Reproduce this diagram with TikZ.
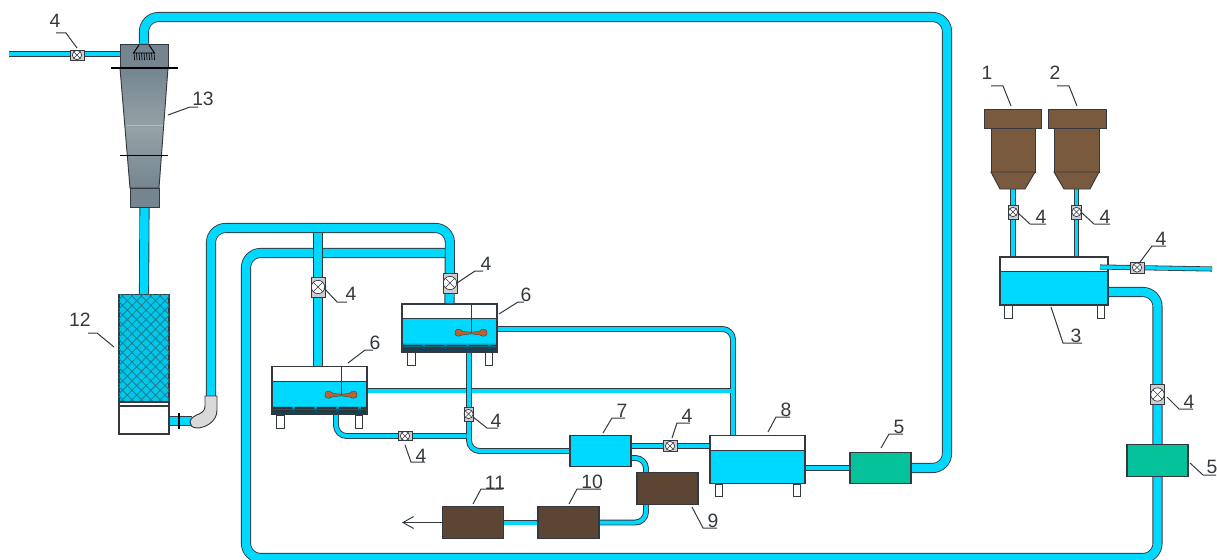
\documentclass[tikz,border=0pt]{standalone}
\usepackage{fontspec}
\setmainfont{Liberation Sans}
\usetikzlibrary{arrows.meta,backgrounds,patterns.meta}
\definecolor{water}{HTML}{00D9FF}
\definecolor{wire}{HTML}{33393E}
\definecolor{mud}{HTML}{5C4533}
\definecolor{ore}{HTML}{7A5A3F}
\definecolor{pump}{HTML}{05C29A}
\definecolor{steel}{HTML}{75858F}
\definecolor{steellight}{HTML}{94A3A5}
\definecolor{blade}{HTML}{BC6230}
\definecolor{sludge}{HTML}{123A50}
\tikzset{
  pipe/.style={draw=wire,line width=.65pt,double=water,double distance=6.3pt,rounded corners=11pt},
  thinpipe/.style={draw=wire,line width=.7pt,double=water,double distance=3pt,rounded corners=8pt},
  feedpipe/.style={draw=wire,line width=.6pt,double=water,double distance=2.6pt},
  unit/.style={draw=wire,line width=.8pt,inner sep=0pt,minimum width=45.75pt,minimum height=23.5pt},
  pumpbox/.style={unit,fill=pump},
  mudbox/.style={unit,fill=mud},
  tank/.style={draw=wire,line width=.8pt,fill=water,inner sep=0pt,minimum width=71.25pt,minimum height=36pt,
    path picture={
      \fill[white] (path picture bounding box.north west) rectangle ([yshift=-11pt]path picture bounding box.north east);
      \draw[wire,line width=.8pt] ([yshift=-11pt]path picture bounding box.north west) -- ([yshift=-11pt]path picture bounding box.north east);
    }},
  mixband/.style={top color=water,bottom color=sludge,middle color=sludge!85!water},
  valve/.style 2 args={draw=wire,line width=.5pt,fill=wire!25,inner sep=0pt,minimum width=#1,minimum height=#2,
    path picture={
      \fill[white,draw=wire,line width=.5pt] (path picture bounding box.center) circle (3.5pt);
      \draw[wire,line width=.5pt] ([shift={(-2.5pt,-2.5pt)}]path picture bounding box.center) -- ([shift={(2.5pt,2.5pt)}]path picture bounding box.center);
      \draw[wire,line width=.5pt] ([shift={(-2.5pt,2.5pt)}]path picture bounding box.center) -- ([shift={(2.5pt,-2.5pt)}]path picture bounding box.center);
    }},
  bigvalve/.style={draw=wire,line width=.5pt,fill=wire!25,inner sep=0pt,minimum width=10.5pt,minimum height=15pt,
    path picture={
      \fill[white,draw=wire,line width=.5pt] (path picture bounding box.center) circle (5pt);
      \draw[wire,line width=.5pt] ([shift={(-3.5pt,-3.5pt)}]path picture bounding box.center) -- ([shift={(3.5pt,3.5pt)}]path picture bounding box.center);
      \draw[wire,line width=.5pt] ([shift={(-3.5pt,3.5pt)}]path picture bounding box.center) -- ([shift={(3.5pt,-3.5pt)}]path picture bounding box.center);
    }},
  num/.style={font=\fontsize{14.5}{16}\selectfont,text=wire,inner sep=0pt},
  leader/.style={draw=wire,line width=.75pt},
  leg/.style={draw=wire,line width=.7pt,fill=white},
  impeller/.pic={
    \fill[blade,draw=wire,line width=.3pt] (0,-.8) -- (-8,-1.5) .. controls (-11,-4.5) and (-15,-5) .. (-16,-1)
      .. controls (-17,3) and (-13,4.5) .. (-9,2) -- (0,.8) -- (9,2)
      .. controls (13,4.5) and (17,3) .. (16,-1) .. controls (15,-5) and (11,-4.5) .. (8,-1.5) -- cycle;
  }
}
\begin{document}
\begin{tikzpicture}[x=.75pt,y=-.75pt]
  \useasboundingbox (0,0) rectangle (1217,560);
  % cyclone and scrubber
  \draw[wire,line width=.7pt,top color=steel,bottom color=steel,middle color=steellight]
    (120,68) -- (168,68) -- (159,188) -- (130,188) -- cycle;
  \draw[steellight!70!white,line width=.4pt] (127,125) -- (163,125);
  \node[draw=wire,line width=.7pt,fill=steel,inner sep=0pt,minimum width=36pt,minimum height=18pt] (cyc) at (144,56) {};
  \node[draw=wire,line width=.7pt,fill=steel,inner sep=0pt,minimum width=21.75pt,minimum height=14.25pt] (cycb) at (144.5,197.5) {};
  \draw[black,line width=.8pt] (111,68) -- (178,68);
  \draw[black,line width=.7pt] (120,155) -- (168,155);
  \draw[black,line width=.7pt] (139,45) -- (133.5,53) -- (154.5,53) -- (149,45);
  \foreach \x in {134,136.5,...,155}
    \draw[black,line width=.5pt] (\x,53) -- (\x+.6,60);
  \node[draw=wire,line width=.8pt,fill=water!92!black,inner sep=0pt,minimum width=37.5pt,minimum height=80pt,
    postaction={pattern={Hatch[angle=45,distance=5pt,line width=.7pt]},pattern color=wire!55!water}] (scr) at (144,348) {};
  \node[draw=wire,line width=.8pt,fill=white,inner sep=0pt,minimum width=37.5pt,minimum height=24pt] (scrb) at (144,418) {};
  \draw[wire,line width=.8pt] (119,406) -- (169,406);
  \coordinate (scrout) at (169,421);
  \coordinate (elbowin) at (192,421);
  \coordinate (elbowout) at (211,397);
  \draw[wire,line width=.7pt,fill=black!15] (205,396) -- (217,396) -- (217,410) .. controls (217,422) and (205,428) .. (197,428)
    .. controls (192,428) and (190,425) .. (190,422) .. controls (190,418) and (196,415) .. (199,414)
    .. controls (203,412) and (205,410) .. (205,406) -- cycle;

  % hoppers and feed tank
  \draw[wire,line width=.7pt,fill=ore] (991,128) -- (991,172) -- (1035,172) -- (1035,128) -- cycle;
  \draw[wire,line width=.7pt,fill=ore] (991,172) -- (1000,189) -- (1025,189) -- (1035,172) -- cycle;
  \draw[wire,line width=.7pt,fill=ore] (1054,128) -- (1054,172) -- (1099,172) -- (1099,128) -- cycle;
  \draw[wire,line width=.7pt,fill=ore] (1054,172) -- (1064,189) -- (1090,189) -- (1099,172) -- cycle;
  \node[draw=wire,line width=.7pt,fill=ore,inner sep=0pt,minimum width=42.75pt,minimum height=14.25pt] (hopa) at (1012.5,118.5) {};
  \node[draw=wire,line width=.7pt,fill=ore,inner sep=0pt,minimum width=43.5pt,minimum height=14.25pt] (hopb) at (1077,118.5) {};
  \coordinate (hopaout) at (1013,189);
  \coordinate (hopbout) at (1076.5,189);
  \coordinate (feedina) at (1013,257);
  \coordinate (feedinb) at (1076.5,257);
  \node[tank,minimum width=81pt] (feed) at (1054,281) {};
  \coordinate (feedout) at (1108,292);
  \draw[leg] (1004,305) rectangle (1012,318);
  \draw[leg] (1097,305) rectangle (1104,318);

  % mixing tanks
  \node[tank] (mixu) at (449.5,328) {};
  \node[tank] (mixl) at (319.5,390.5) {};
  \shade[mixband] (402.4,342) rectangle (496.6,351.6);
  \shade[mixband] (272.4,405) rectangle (366.6,414);
  \draw[black!80,line width=.8pt,dash pattern=on 14pt off 2.5pt] (403,345.5) -- (497,345.5);
  \draw[black!80,line width=.8pt,dash pattern=on 14pt off 2.5pt] (403,348.5) -- (497,348.5);
  \draw[black!80,line width=.8pt,dash pattern=on 14pt off 2.5pt] (273,408) -- (367,408);
  \draw[black!80,line width=.8pt,dash pattern=on 14pt off 2.5pt] (273,411) -- (367,411);
  \draw[wire,line width=.8pt] (402,352) rectangle (497,304);
  \draw[wire,line width=.8pt] (272,414.5) rectangle (367,366.5);
  \draw[wire,line width=.7pt] (471,304) -- (471,333);
  \draw[wire,line width=.7pt] (341,366.5) -- (341,395);
  \pic at (471,333) {impeller};
  \pic at (341,395) {impeller};
  \draw[leg] (407,352) rectangle (415,365);
  \draw[leg] (485,352) rectangle (492,365);
  \draw[leg] (276,415) rectangle (284,428);
  \draw[leg] (355,415) rectangle (362,428);
  \coordinate (mixuout) at (497,329);
  \coordinate (mixubot) at (469,352);
  \coordinate (mixlin) at (318,366);
  \coordinate (mixlbot) at (336,415);

  % filter line
  \node[unit,fill=water] (sep) at (600.5,451) {};
  \node[tank] (clear) at (757.5,459.5) {};
  \draw[leg] (715,484) rectangle (722,496);
  \draw[leg] (793,484) rectangle (800,496);
  \node[pumpbox] (pumpa) at (880.5,468) {};
  \node[pumpbox] (pumpb) at (1157.5,460.5) {};
  \node[mudbox] (press) at (667.5,488.5) {};
  \node[mudbox] (dry) at (568.5,522.5) {};
  \node[mudbox] (pack) at (473,522.5) {};
  \coordinate (clearin) at (733,435);
  \coordinate (exit) at (402,522.5);

  % valves
  \node[valve={10.5pt}{7.5pt}] (va) at (77,55) {};
  \node[valve={7.5pt}{10.5pt}] (vb) at (1013,212) {};
  \node[valve={7.5pt}{10.5pt}] (vc) at (1076.5,212) {};
  \node[valve={7pt}{10.5pt}] (ve) at (468.5,414) {};
  \node[valve={10.5pt}{7pt}] (vf) at (405,436) {};
  \node[valve={10.5pt}{8pt}] (vg) at (670,446) {};
  \node[bigvalve] (vh) at (318,287) {};
  \node[bigvalve] (vi) at (450,283) {};
  \node[bigvalve] (vj) at (1157.5,394.5) {};

  \begin{scope}[on background layer]
    %% main water loops
    \draw[pipe] (cyc.north) -- (144,17) -- (947,17) -- (947,468) -- (pumpa.east);
    \draw[pipe] (cycb.south) -- (scr.north);
    \draw[pipe,rounded corners=0pt] (scrout) -- (elbowin);
    \draw[pipe] (pumpb.south) -- (1157.5,558) -- (246,558) -- (246,253) -- (446,253);
    \draw[pipe] (elbowout) -- (211,228) -- (450,228) -- (mixu.north);
    \draw[pipe,rounded corners=0pt] (318,232.5) -- (mixlin);
    \draw[pipe] (feedout) -- (1157.5,292) -- (pumpb.north);
    %% process lines
    \draw[thinpipe] (mixuout) -- (733,329) -- (clearin);
    \draw[thinpipe] (mixl.east) -- (731,390.5);
    \draw[thinpipe] (mixubot) -- (469,451) -- (sep.west);
    \draw[thinpipe] (mixlbot) -- (336,436) -- (466.5,436);
    \draw[thinpipe] (sep.east |- vg) -- (710,446);
    \draw[thinpipe] (631,458) -- (646,458) -- (646,473);
    \draw[thinpipe] (646,504) -- (646,522.5) -- (dry.east);
    \draw[thinpipe] (dry.west) -- (pack.east);
    \draw[thinpipe] (clear.east |- pumpa) -- (pumpa.west);
    %% feeds
    \draw[feedpipe] (9,54) -- (cyc.west |- 0,54);
    \draw[feedpipe] (hopaout) -- (feedina);
    \draw[feedpipe] (hopbout) -- (feedinb);
    \draw[black,line width=1.1pt] (179,413) -- (179,429);
  \end{scope}
  \draw[feedpipe] (1100,267) -- (1212,269);
  \node[valve={10.5pt}{8pt}] (vd) at (1137,267.5) {};
  \draw[wire,line width=.7pt,-{Straight Barb[length=8pt,width=9pt]}] (pack.west) -- (exit);

  % numbers
  \node[num] (la) at (55,21) {4};
  \draw[leader] (la) ++(1,12) -- ++(10,0) -- ++(11,15);
  \node[num] (lb) at (203,99) {13};
  \draw[leader] (lb) ++(-5,8) -- ++(-8,0) -- ++(-22,8);
  \node[num] (lc) at (80,320) {12};
  \draw[leader] (lc) ++(8,13) -- ++(9,0) -- ++(17,14);
  \node[num] (ld) at (987,73) {1};
  \draw[leader] (ld) ++(4,13) -- ++(12,0) -- ++(8,20);
  \node[num] (le) at (1055,73) {2};
  \draw[leader] (le) ++(2,13) -- ++(12,0) -- ++(8,20);
  \node[num] (lf) at (375,343) {6};
  \draw[leader] (lf) ++(-2,7) -- ++(-8,0) -- ++(-17,13);
  \node[num] (lg) at (526,295) {6};
  \draw[leader] (lg) ++(-2,7) -- ++(-6,0) -- ++(-19,12);
  \node[num] (lh) at (351,294) {4};
  \draw[leader] (lh) ++(-4,8) -- ++(-10,0) -- ++(-13,-14);
  \node[num] (li) at (486,264) {4};
  \draw[leader] (li) ++(-3,7) -- ++(-8,0) -- ++(-18,12);
  \node[num] (lj) at (496,421) {4};
  \draw[leader] (lj) ++(2,7) -- ++(-11,0) -- ++(-14,-11);
  \node[num] (lk) at (421,456) {4};
  \draw[leader] (lk) ++(4,6) -- ++(-14,0) -- ++(-6,-17);
  \node[num] (ll) at (622,411) {7};
  \draw[leader] (ll) ++(3,7) -- ++(-13,0) -- ++(-9,15);
  \node[num] (lm) at (687,416) {4};
  \draw[leader] (lm) ++(3,7) -- ++(-13,0) -- ++(-5,15);
  \node[num] (ln) at (786,410) {8};
  \draw[leader] (ln) ++(4,7) -- ++(-14,0) -- ++(-8,15);
  \node[num] (lo) at (899,427) {5};
  \draw[leader] (lo) ++(4,7) -- ++(-14,0) -- ++(-8,14);
  \node[num] (lp) at (713,521) {9};
  \draw[leader] (lp) ++(4,7) -- ++(-14,0) -- ++(-11,-21);
  \node[num] (lq) at (592,482) {10};
  \draw[leader] (lq) ++(9,7) -- ++(-24,0) -- ++(-8,15);
  \node[num] (lr) at (495,483) {11};
  \draw[leader] (lr) ++(8,6) -- ++(-22,0) -- ++(-8,15);
  \node[num] (ls) at (1212,467) {5};
  \draw[leader] (ls) ++(4,8) -- ++(-13,0) -- ++(-13,-12);
  \node[num] (lt) at (1189,402) {4};
  \draw[leader] (lt) ++(4,7) -- ++(-14,0) -- ++(-12,-12);
  \node[num] (lu) at (1041,217) {4};
  \draw[leader] (lu) ++(5,7) -- ++(-16,0) -- ++(-12,-11);
  \node[num] (lv) at (1105,217) {4};
  \draw[leader] (lv) ++(5,7) -- ++(-16,0) -- ++(-12,-11);
  \node[num] (lw) at (1161,239) {4};
  \draw[leader] (lw) ++(5,7) -- ++(-14,0) -- ++(-12,16);
  \node[num] (lx) at (1076,336) {3};
  \draw[leader] (lx) ++(6,7) -- ++(-19,0) -- ++(-12,-36);
\end{tikzpicture}
\end{document}
